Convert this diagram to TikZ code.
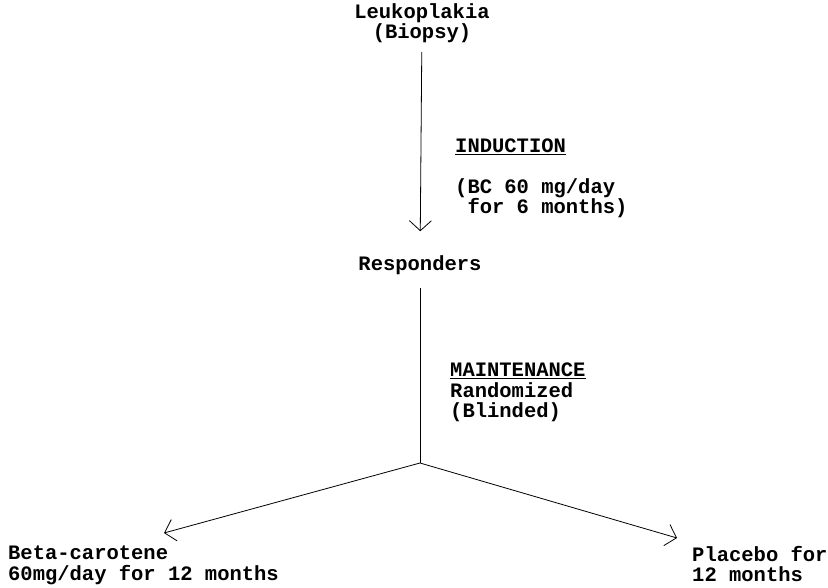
\documentclass[tikz,border=0pt]{standalone}
\usepackage{fontspec}
\setmonofont{Liberation Mono}
\usetikzlibrary{arrows.meta}
\begin{document}
\begin{tikzpicture}[x=1pt,y=1pt]
              \useasboundingbox (0,0) rectangle (828,-588);
              \begin{scope}[every node/.style={inner sep=0pt, font=\ttfamily\bfseries\fontsize{20.5}{20.5}\selectfont}]
                \node[align=center] (leuko) at (422,-23) {Leukoplakia\\(Biopsy)};
                \node (resp) at (420,-265) {Responders};
                \node[anchor=west, align=left] (induct) at (455,-147) {\underline{INDUCTION}};
                \node[anchor=north west, align=left] (dose) at (455,-178) {(BC 60 mg/day\\\ for 6 months)};
                \node[anchor=west, align=left] (maint) at (450,-371) {\underline{MAINTENANCE}};
                \node[anchor=north west, align=left] (rand) at (450,-382) {Randomized\\(Blinded)};
                \node[anchor=north west, align=left] (beta) at (8,-546) {Beta-carotene\\60mg/day for 12 months};
                \node[anchor=north west, align=left] (plac) at (692,-546) {Placebo for\\12 months};
              \end{scope}
              \coordinate (fork) at (420,-463);
              \coordinate (lefttip) at (164,-533);
              \coordinate (righttip) at (677,-538);
              \begin{scope}[every edge/.style={draw=black, thick, -{Straight Barb[length=10pt,width=22pt]}}]
                \path (leuko) edge[shorten <=9pt, shorten >=24pt] (resp);
                \draw[thick, shorten <=13pt] (resp) -- (fork);
                \path (fork) edge (lefttip);
                \path (fork) edge (righttip);
              \end{scope}
            \end{tikzpicture}
\end{document}
